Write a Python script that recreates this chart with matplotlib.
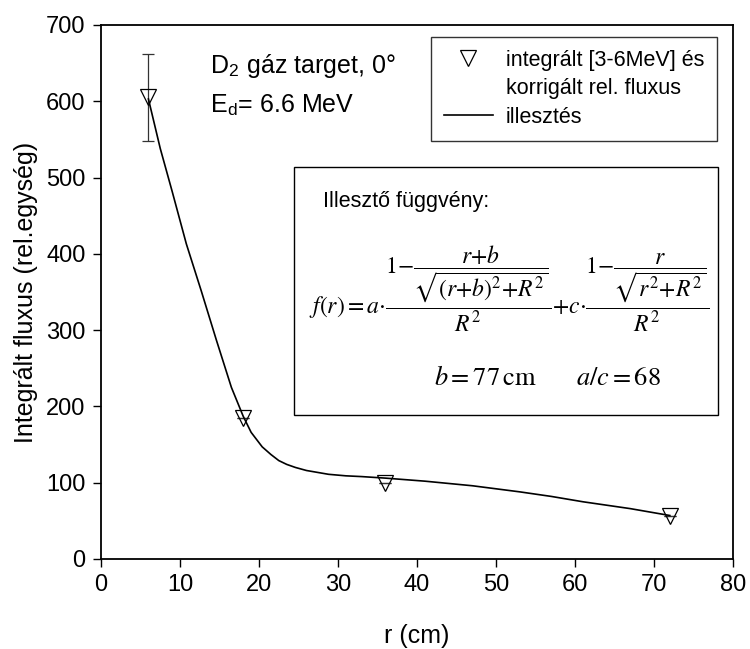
import matplotlib
matplotlib.use("Agg")
import matplotlib.pyplot as plt
from matplotlib.lines import Line2D
from matplotlib.patches import Rectangle

plt.rcParams['font.family'] = ['Liberation Sans', 'DejaVu Sans']
plt.rcParams['mathtext.fontset'] = 'stix'

# mért pontok
r_pont = [6, 18, 36, 72]
fluxus = [605, 185, 99, 57]
hiba = [57, 0, 0, 0]

# illesztett görbe (leolvasott pontok)
r_ill = [6, 7.5, 9, 10.8, 12.7, 14.6, 16.5, 18, 19, 20.4, 21.5, 22.5, 23.5,
         24.6, 26, 28.8, 31, 33, 36, 41, 47, 53, 57, 61, 67, 72]
f_ill = [603, 538, 482, 413, 351, 287, 225, 187, 166, 147, 137, 129, 124,
         120, 116, 111, 109, 108, 106, 102, 96, 88, 82, 75, 66, 57]

fig = plt.figure(figsize=(7.5, 6.49), dpi=100)
ax = fig.add_axes([0.1347, 0.1387, 0.8427, 0.8228])

ax.errorbar(r_pont, fluxus, yerr=hiba, fmt='none', ecolor='#333333',
            elinewidth=0.9, capsize=4, capthick=0.9)
pts, = ax.plot(r_pont, fluxus, linestyle='none', marker='v', markersize=12,
               markerfacecolor='none', markeredgecolor='black',
               markeredgewidth=0.9)
vonal, = ax.plot(r_ill, f_ill, color='black', linewidth=1.2)

ax.set_xlim(0, 80)
ax.set_ylim(0, 700)
ax.set_xticks(range(0, 81, 10))
ax.set_yticks(range(0, 701, 100))
ax.tick_params(direction='out', length=6, width=1, labelsize=17, pad=5,
               top=False, right=False)
for s in ax.spines.values():
    s.set_linewidth(1.3)

ax.set_xlabel('r (cm)', fontsize=18, labelpad=20)
ax.set_ylabel('Integrált fluxus (rel.egység)', fontsize=18, labelpad=6)

# jelmagyarázat (a marker az első sorhoz igazítva)
ures = Line2D([], [], linestyle='none')
leg = ax.legend(handles=[pts, ures, vonal],
                labels=['integrált [3-6MeV] és', 'korrigált rel. fluxus', 'illesztés'],
                loc='upper right', bbox_to_anchor=(0.975, 0.978), borderaxespad=0,
                fontsize=15.5, frameon=True, fancybox=False,
                edgecolor='black', handlelength=2.3, labelspacing=0.35,
                borderpad=0.6, handletextpad=0.6)
leg.get_frame().set_linewidth(1)

ax.text(0.172, 0.910, r'D$_\mathregular{2}$ gáz target, 0°', transform=ax.transAxes,
        fontsize=18, va='baseline', ha='left')
ax.text(0.172, 0.835, r'E$_\mathregular{d}$= 6.6 MeV', transform=ax.transAxes,
        fontsize=18, va='baseline', ha='left')

# illesztő függvény doboz
ax.add_patch(Rectangle((0.305, 0.270), 0.671, 0.464, transform=ax.transAxes,
                       fill=False, edgecolor='black', linewidth=1))
ax.text(0.351, 0.669, 'Illesztő függvény:', transform=ax.transAxes,
        fontsize=15.5, va='center', ha='left')
ax.text(0.646, 0.505,
        r'$f(r){=}a{\cdot}\dfrac{1{-}\dfrac{r{+}b}{\sqrt{(r{+}b)^2{+}R^2}}}{R^2}'
        r'{+}c{\cdot}\dfrac{1{-}\dfrac{r}{\sqrt{r^2{+}R^2}}}{R^2}$',
        transform=ax.transAxes, fontsize=17, va='center', ha='center')
ax.text(0.608, 0.339, r'$b{=}77\,\mathrm{cm}$',
        transform=ax.transAxes, fontsize=19, va='center', ha='center')
ax.text(0.818, 0.339, r'$a/c{=}68$',
        transform=ax.transAxes, fontsize=19, va='center', ha='center')

fig.savefig('out.png', dpi=100)
